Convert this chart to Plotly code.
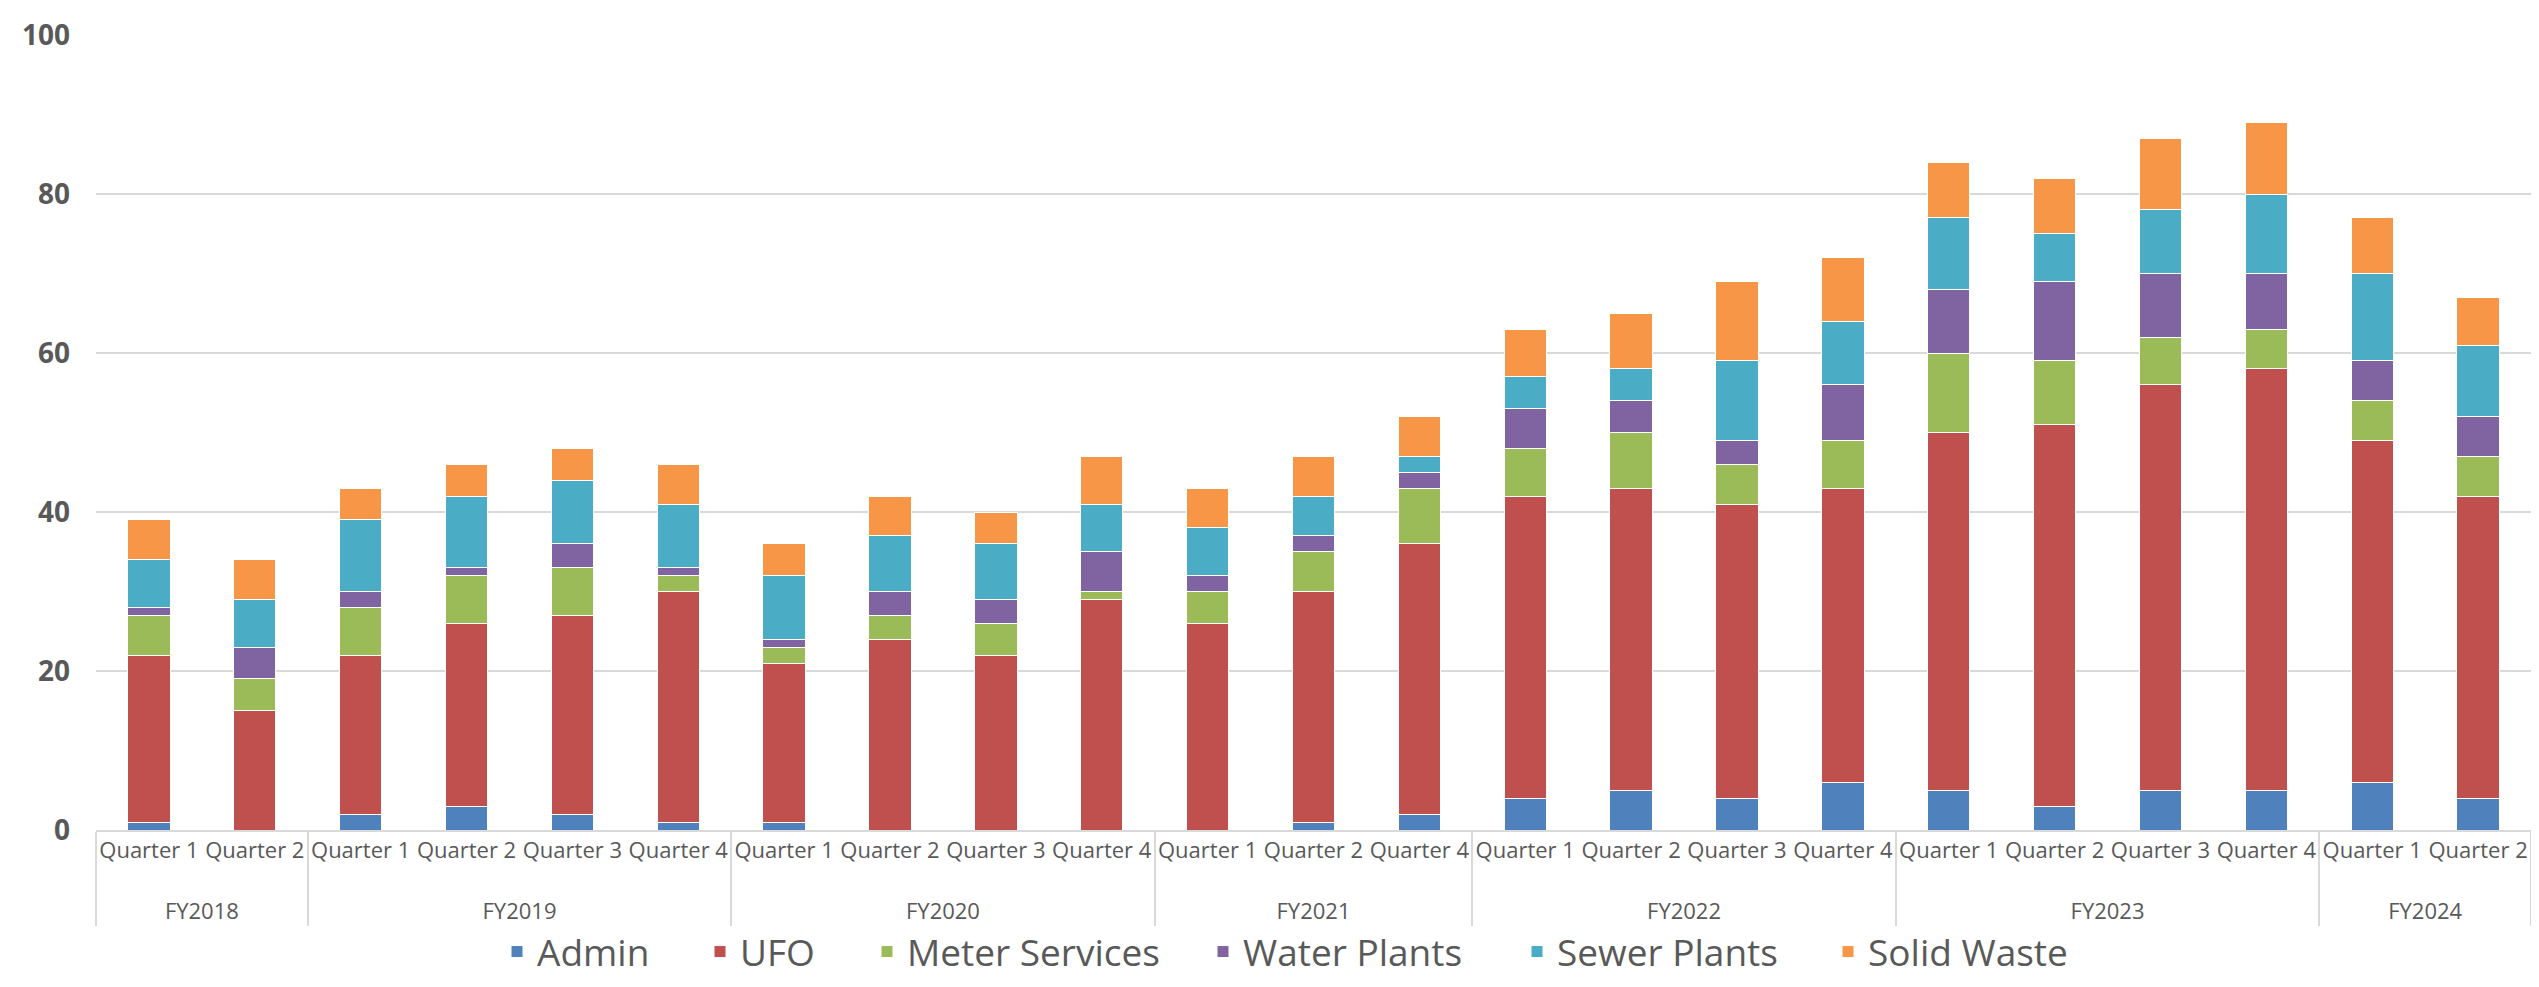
import plotly.graph_objects as go

fiscal_years = ["FY2018", "FY2018",
                "FY2019", "FY2019", "FY2019", "FY2019",
                "FY2020", "FY2020", "FY2020", "FY2020",
                "FY2021", "FY2021", "FY2021",
                "FY2022", "FY2022", "FY2022", "FY2022",
                "FY2023", "FY2023", "FY2023", "FY2023",
                "FY2024", "FY2024"]
quarters = ["Quarter 1", "Quarter 2",
            "Quarter 1", "Quarter 2", "Quarter 3", "Quarter 4",
            "Quarter 1", "Quarter 2", "Quarter 3", "Quarter 4",
            "Quarter 1", "Quarter 2", "Quarter 4",
            "Quarter 1", "Quarter 2", "Quarter 3", "Quarter 4",
            "Quarter 1", "Quarter 2", "Quarter 3", "Quarter 4",
            "Quarter 1", "Quarter 2"]

admin          = [1, 0, 2, 3, 2, 1, 1, 0, 0, 0, 0, 1, 2, 4, 5, 4, 6, 5, 3, 5, 5, 6, 4]
ufo            = [21, 15, 20, 23, 25, 29, 20, 24, 22, 29, 26, 29, 34, 38, 38, 37, 37, 45, 48, 51, 53, 43, 38]
meter_services = [5, 4, 6, 6, 6, 2, 2, 3, 4, 1, 4, 5, 7, 6, 7, 5, 6, 10, 8, 6, 5, 5, 5]
water_plants   = [1, 4, 2, 1, 3, 1, 1, 3, 3, 5, 2, 2, 2, 5, 4, 3, 7, 8, 10, 8, 7, 5, 5]
sewer_plants   = [6, 6, 9, 9, 8, 8, 8, 7, 7, 6, 6, 5, 2, 4, 4, 10, 8, 9, 6, 8, 10, 11, 9]
solid_waste    = [5, 5, 4, 4, 4, 5, 4, 5, 4, 6, 5, 5, 5, 6, 7, 10, 8, 7, 7, 9, 9, 7, 6]

series_names = ["Admin", "UFO", "Meter Services", "Water Plants", "Sewer Plants", "Solid Waste"]
series_values = [admin, ufo, meter_services, water_plants, sewer_plants, solid_waste]
series_colors = ["#4F81BD", "#C0504D", "#9BBB59", "#8064A2", "#4BACC6", "#F79646"]

FONT = "Open Sans"
GRAY = "#595959"
GRID = "#D9D9D9"

# page body has an 8px margin; figure sized so the page does not scroll
W, H = 2523, 971
ML, MR, MT, MB = 88, 0, 27, 149
plot_w = W - ML - MR
plot_h = H - MT - MB

# legend entry left positions (figure px) and vertical centre
legend_left_px = [497, 700, 867, 1203, 1517, 1828]
legend_center_px = 944

# inner (quarter) tick labels carry a blank second line to push FY row lower
quarter_ticks = [q + "<br>\u00a0" for q in quarters]

fig = go.Figure()
layout_legends = {}
for i, (name, vals, color) in enumerate(zip(series_names, series_values, series_colors)):
    key = "legend" if i == 0 else f"legend{i+1}"
    fig.add_trace(go.Bar(
        x=[fiscal_years, quarter_ticks], y=vals, name=name, legend=key,
        showlegend=True,
        marker=dict(color=color, line=dict(color="white", width=1)),
    ))
    layout_legends[key] = dict(
        orientation="h",
        x=(legend_left_px[i] - 8 - ML) / plot_w, xanchor="left",
        y=(H - MB - legend_center_px) / plot_h, yanchor="middle",
        font=dict(family=FONT, size=37, color=GRAY),
        bgcolor="rgba(0,0,0,0)",
    )

fig.update_layout(
    width=W, height=H, showlegend=True,
    barmode="stack", bargap=0.6,
    plot_bgcolor="white", paper_bgcolor="white",
    margin=dict(l=ML, r=MR, t=MT, b=MB, autoexpand=False),
    font=dict(family=FONT, color=GRAY),
    **layout_legends,
)
fig.update_yaxes(
    range=[0, 100], dtick=20, showgrid=True, gridcolor=GRID, gridwidth=2,
    zeroline=False, showline=False,
    tickfont=dict(family=FONT, size=28, color=GRAY, weight="bold"),
    ticklabelstandoff=25,
)
fig.update_xaxes(
    type="multicategory", showline=True, linecolor=GRID, linewidth=2,
    showdividers=True, dividercolor=GRID, dividerwidth=2,
    ticks="", tickangle=0, tickfont=dict(family=FONT, size=22, color=GRAY),
)

fig.write_html("out.html")
